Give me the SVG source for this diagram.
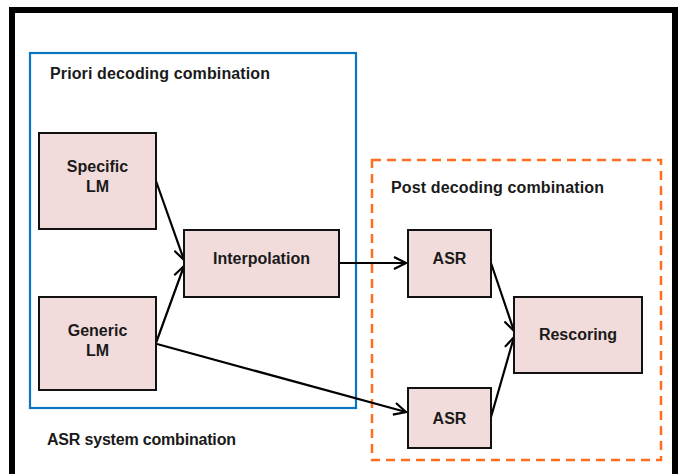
<svg xmlns="http://www.w3.org/2000/svg" width="682" height="474" viewBox="0 0 682 474">
<defs>
<style>
.box{fill:#F2DCDB;stroke:#111;stroke-width:2}
.t{font-family:"Liberation Sans",Arial,sans-serif;font-weight:bold;font-size:16px;fill:#1a1a1a}
.c{text-anchor:middle}
.e{fill:none;stroke:#000;stroke-width:2.2;marker-end:url(#ah)}
</style>
<marker id="ah" viewBox="0 0 14 14" refX="13" refY="7" markerWidth="14" markerHeight="14" markerUnits="userSpaceOnUse" orient="auto">
<path d="M1,1 L13,7 L1,13" fill="none" stroke="#000" stroke-width="2.2"/>
</marker>
</defs>
<rect width="682" height="474" fill="#fff"/>
<rect id="frame" x="12" y="10" width="663" height="480" fill="none" stroke="#000" stroke-width="6"/>
<g id="priori">
<rect x="30" y="53" width="326" height="355" fill="none" stroke="#0A75C2" stroke-width="2.2"/>
<text class="t" x="50" y="79" textLength="220">Priori decoding combination</text>
</g>
<g id="post">
<rect x="372" y="160" width="289" height="300" fill="none" stroke="#FF6E1E" stroke-width="2.5" stroke-dasharray="9,6"/>
<text class="t" x="391" y="193" textLength="213">Post decoding combination</text>
</g>
<g id="asrsys">
<text class="t" x="47" y="445" textLength="189">ASR system combination</text>
</g>
<g id="connectors">
<path class="e" d="M156,181 L184,260"/>
<path class="e" d="M156,343 L184,266"/>
<path class="e" d="M339,263 L406,263"/>
<path class="e" d="M157,344 L406,412"/>
<path class="e" d="M491,263 L514,331"/>
<path class="e" d="M491,417 L514,337"/>
</g>
<g id="specific">
<rect class="box" x="39" y="133" width="117" height="96"/>
<text class="t c" x="97.5" y="172">Specific</text>
<text class="t c" x="97.5" y="192">LM</text>
</g>
<g id="generic">
<rect class="box" x="39" y="297" width="117" height="93"/>
<text class="t c" x="97.5" y="336">Generic</text>
<text class="t c" x="97.5" y="356">LM</text>
</g>
<g id="interpolation">
<rect class="box" x="184" y="230" width="155" height="67"/>
<text class="t c" x="261.5" y="264">Interpolation</text>
</g>
<g id="asr1">
<rect class="box" x="408" y="230" width="83" height="67"/>
<text class="t c" x="449.5" y="264">ASR</text>
</g>
<g id="asr2">
<rect class="box" x="408" y="388" width="83" height="60"/>
<text class="t c" x="449.5" y="424">ASR</text>
</g>
<g id="rescoring">
<rect class="box" x="514" y="297" width="128" height="76"/>
<text class="t c" x="578" y="340">Rescoring</text>
</g>
</svg>
